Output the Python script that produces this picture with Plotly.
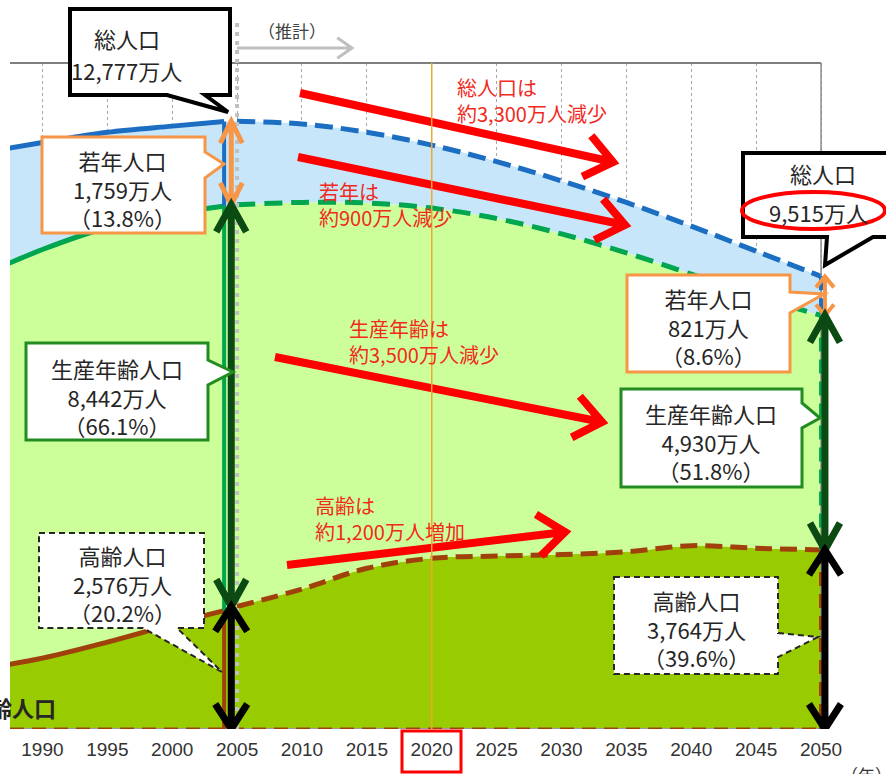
import math
import plotly.graph_objects as go

# ---------------- data (万人) ----------------
hist_years = [1985, 1990, 1995, 2000, 2004]
hist_young = [2603, 2249, 2001, 1847, 1773]
hist_working = [8251, 8590, 8716, 8622, 8508]
hist_elderly = [1247, 1489, 1826, 2204, 2488]

proj_years = [2005, 2010, 2015, 2020, 2025, 2030, 2035, 2040, 2045, 2050]
proj_young = [1759, 1648, 1484, 1324, 1195, 1115, 1058, 1008, 944, 821]
proj_working = [8442, 8129, 7681, 7360, 7097, 6740, 6285, 5709, 5300, 4930]
proj_elderly = [2576, 2941, 3378, 3590, 3635, 3667, 3725, 3853, 3800, 3764]

tick_years = [1990, 1995, 2000, 2005, 2010, 2015, 2020, 2025, 2030, 2035, 2040, 2045, 2050]
tick_labels = [str(y) for y in tick_years]

change_notes = [
    ("総人口は", "約3,300万人減少"),
    ("若年は", "約900万人減少"),
    ("生産年齢は", "約3,500万人減少"),
    ("高齢は", "約1,200万人増加"),
]

# ---------------- stacking ----------------
def stack(eld, work, young):
    s_e = list(eld)
    s_w = [e + w for e, w in zip(eld, work)]
    s_t = [a + y for a, y in zip(s_w, young)]
    return s_e, s_w, s_t

h_e, h_w, h_t = stack(hist_elderly, hist_working, hist_young)
p_e, p_w, p_t = stack(proj_elderly, proj_working, proj_young)
all_years = hist_years + proj_years
all_e, all_w, all_t = h_e + p_e, h_w + p_w, h_t + p_t

# ---------------- geometry ----------------
FW, FH = 886, 774
L, R, T, B = 10, 39, 63, 45
PW, PH = FW - L - R, FH - T - B
XR = [1987.5, 2052]
YR = [0, 14000]
XPPU = PW / (XR[1] - XR[0])
YPPU = PH / (YR[1] - YR[0])

def px(x):
    return (x - L) / PW

def py(y):
    return (FH - B - y) / PH

def P(x, y):
    return f"{px(x):.5f},{py(y):.5f}"

FONT = "Noto Sans CJK JP"
C_BLUE = "#1b6ec2"
C_GREEN = "#00a550"
C_BROWN = "#a0400a"
C_ELD_FILL = "#99cc00"
C_WORK_FILL = "#ccff99"
C_YOUNG_FILL = "#c7e6fa"
C_ORANGE = "#f79646"
C_DKGREEN = "#0b4a12"
C_BOXGREEN = "#228b22"
C_TEXT = "#262626"
C_RED = "#ff0000"
C_REDTXT = "#f22a1e"

fig = go.Figure()

# fills
fig.add_trace(go.Scatter(x=all_years, y=all_e, mode="lines", fill="tozeroy",
                         fillcolor=C_ELD_FILL, line=dict(width=0, shape="spline"),
                         hoverinfo="skip"))
fig.add_trace(go.Scatter(x=all_years, y=all_w, mode="lines", fill="tonexty",
                         fillcolor=C_WORK_FILL, line=dict(width=0, shape="spline"),
                         hoverinfo="skip"))
fig.add_trace(go.Scatter(x=all_years, y=all_t, mode="lines", fill="tonexty",
                         fillcolor=C_YOUNG_FILL, line=dict(width=0, shape="spline"),
                         hoverinfo="skip"))

# lines
for ys_h, ys_p, col, dash in [(h_t, p_t, C_BLUE, "18px,8px"),
                              (h_w, p_w, C_GREEN, "18px,9px"),
                              (h_e, p_e, C_BROWN, "17px,8px")]:
    fig.add_trace(go.Scatter(x=hist_years, y=ys_h, mode="lines",
                             line=dict(color=col, width=5, shape="spline"),
                             hoverinfo="skip"))
    fig.add_trace(go.Scatter(x=proj_years, y=ys_p, mode="lines",
                             line=dict(color=col, width=5, shape="spline", dash=dash),
                             hoverinfo="skip"))

shapes = []

# borders
shapes.append(dict(type="line", xref="x", yref="paper", x0=XR[0], x1=2050, y0=1, y1=1,
                   line=dict(color="#7f7f7f", width=2)))
shapes.append(dict(type="line", xref="x", yref="paper", x0=2050, x1=2050, y0=0, y1=1,
                   line=dict(color="#8c8c8c", width=1.5)))
shapes.append(dict(type="line", xref="x", yref="y", x0=XR[0], x1=2050, y0=0, y1=0,
                   line=dict(color="#9a9a9a", width=2)))
shapes.append(dict(type="line", xref="x", yref="y", x0=XR[0], x1=2050, y0=0, y1=0,
                   line=dict(color=C_BROWN, width=3, dash="14px,8px")))

# area edges
x_h = hist_years[-1]
for y0, y1, col in [(h_t[-1], h_w[-1], C_BLUE), (h_w[-1], h_e[-1], C_GREEN), (h_e[-1], 0, C_BROWN)]:
    shapes.append(dict(type="line", xref="x", yref="y", x0=x_h, x1=x_h, y0=y0, y1=y1,
                       line=dict(color=col, width=4)))
x_e = proj_years[-1]
for y0, y1, col in [(p_t[-1], p_w[-1], C_BLUE), (p_w[-1], p_e[-1], C_GREEN), (p_e[-1], 0, C_BROWN)]:
    shapes.append(dict(type="line", xref="x", yref="y", x0=x_e, x1=x_e, y0=y0, y1=y1,
                       line=dict(color=col, width=4, dash="14px,8px")))

# gray dotted projection boundary (2005)
shapes.append(dict(type="line", xref="x", yref="paper", x0=proj_years[0], x1=proj_years[0],
                   y0=0, y1=py(22), line=dict(color="#c0c0c0", width=4, dash="4px,5px")))

def arrow_path(x0, y0, x1, y1, alen, ang):
    dx, dy = x1 - x0, y1 - y0
    d = math.hypot(dx, dy)
    ux, uy = -dx / d, -dy / d
    pts = []
    for s in (1, -1):
        a = math.radians(ang * s)
        rx = ux * math.cos(a) - uy * math.sin(a)
        ry = ux * math.sin(a) + uy * math.cos(a)
        pts.append((x1 + rx * alen, y1 + ry * alen))
    return (f"M {P(x0, y0)} L {P(x1, y1)} M {P(*pts[0])} L {P(x1, y1)} L {P(*pts[1])}")

# gray "(推計)" arrow
shapes.append(dict(type="path", xref="paper", yref="paper",
                   path=arrow_path(237, 48, 352, 48, 18, 35),
                   line=dict(color="#bfbfbf", width=3)))

# red trend arrows
for (x0, y0, x1, y1) in [(300, 93, 613, 162), (298, 157, 625, 225),
                         (275, 357, 602, 422), (287, 565, 565, 532)]:
    shapes.append(dict(type="path", xref="paper", yref="paper",
                       path=arrow_path(x0, y0, x1, y1, 34, 38),
                       line=dict(color=C_RED, width=8)))

# vertical double arrows (data coords)
def varrow(x, ytop, ybot, color, width, axp, ayp):
    ax = axp / XPPU
    ay = ayp / YPPU
    path = (f"M {x},{ytop} L {x},{ybot} "
            f"M {x - ax},{ytop - ay} L {x},{ytop} L {x + ax},{ytop - ay} "
            f"M {x - ax},{ybot + ay} L {x},{ybot} L {x + ax},{ybot + ay}")
    return dict(type="path", xref="x", yref="y", path=path, line=dict(color=color, width=width))

xa0 = proj_years[0] - 0.45
shapes.append(varrow(xa0, p_t[0], p_w[0], C_ORANGE, 5, 11, 22))
shapes.append(varrow(xa0, p_w[0], p_e[0], C_DKGREEN, 7, 15, 27))
shapes.append(varrow(xa0, p_e[0], 0, "#000000", 7, 16, 25))
xa1 = proj_years[-1] + 0.3
shapes.append(varrow(xa1, p_t[-1], p_w[-1], C_ORANGE, 4, 9, 11))
shapes.append(varrow(xa1, p_w[-1], p_e[-1], C_DKGREEN, 7, 15, 27))
shapes.append(varrow(xa1, p_e[-1], 0, "#000000", 7, 16, 25))

# callouts
def callout(pts, color, width, dash="solid"):
    path = "M " + " L ".join(P(x, y) for x, y in pts) + " Z"
    return dict(type="path", xref="paper", yref="paper", path=path, fillcolor="white",
                line=dict(color=color, width=width, dash=dash))

shapes.append(callout([(70, 9), (230, 9), (230, 95), (205, 95), (228, 112), (167, 95), (70, 95)], "#000000", 4))
shapes.append(callout([(42, 137), (205, 137), (205, 152), (224, 164), (205, 178), (205, 233), (42, 233)], C_ORANGE, 3))
shapes.append(callout([(26, 343), (208, 343), (208, 360), (233, 372), (208, 385), (208, 440), (26, 440)], C_BOXGREEN, 3))
shapes.append(callout([(39, 533), (204, 533), (204, 628), (177, 628), (222, 672), (143, 628), (39, 628)], "#262626", 2, "6px,4px"))
shapes.append(callout([(743, 153), (905, 153), (905, 237), (873, 237), (825, 265), (827, 237), (743, 237)], "#000000", 4))
shapes.append(callout([(627, 275), (790, 275), (790, 292), (824, 294), (790, 313), (790, 372), (627, 372)], C_ORANGE, 3))
shapes.append(callout([(621, 389), (802, 389), (802, 403), (820, 418), (802, 428), (802, 487), (621, 487)], C_BOXGREEN, 3))
shapes.append(callout([(614, 577), (778, 577), (778, 633), (818, 637), (778, 657), (778, 674), (614, 674)], "#262626", 2, "6px,4px"))

# red ellipse
shapes.append(dict(type="circle", xref="paper", yref="paper", x0=px(742), x1=px(885),
                   y0=py(229), y1=py(192), line=dict(color=C_RED, width=4)))

# 2020 line
shapes.append(dict(type="line", xref="x", yref="paper", x0=2020, x1=2020, y0=0, y1=1,
                   line=dict(color="#f0a830", width=1.5)))
# red box around 2020 label
shapes.append(dict(type="rect", xref="paper", yref="paper", x0=px(402), x1=px(461),
                   y0=py(772), y1=py(731), line=dict(color=C_RED, width=3)))

# ---------------- annotations ----------------
ann = []

def txt(x, y, s, size=22, color=C_TEXT, anchor="center", family=FONT):
    ann.append(dict(xref="paper", yref="paper", x=px(x), y=py(y), text=s, showarrow=False,
                    xanchor=anchor, yanchor="middle", align=anchor,
                    font=dict(family=family, size=size, color=color)))

t0 = p_t[0]
t1 = p_t[-1]
def pct(v, t):
    return f"（{100 * v / t:.1f}%）"

def block(x, yc, lines, size=22):
    txt(x, yc, "<br>".join(lines), size=size)

txt(127, 38, "総人口")
txt(127, 70, f"{t0:,}万人")
block(123, 189, ["若年人口", f"{proj_young[0]:,}万人", pct(proj_young[0], t0)])
block(117, 396, ["生産年齢人口", f"{proj_working[0]:,}万人", pct(proj_working[0], t0)])
block(122, 583, ["高齢人口", f"{proj_elderly[0]:,}万人", pct(proj_elderly[0], t0)])

txt(823, 173, "総人口")
txt(818, 212, f"{t1:,}万人")
block(708, 326, ["若年人口", f"{proj_young[-1]:,}万人", pct(proj_young[-1], t1)])
block(711, 441, ["生産年齢人口", f"{proj_working[-1]:,}万人", pct(proj_working[-1], t1)])
block(696, 628, ["高齢人口", f"{proj_elderly[-1]:,}万人", pct(proj_elderly[-1], t1)])

for (a, b), (x, y) in zip(change_notes, [(455, 87), (317, 192), (347, 328), (313, 505)]):
    txt(x, y + 13, f"{a}<br>{b}", size=20, color=C_REDTXT, anchor="left")

txt(292, 31, "（推計）", size=17, color="#404040")
txt(58, 707, "<b>高齢人口</b>", size=22, color=C_TEXT, anchor="right")
txt(866, 774, "（年）", size=17, color="#333333")

fig.update_layout(
    width=FW, height=FH,
    margin=dict(l=L, r=R, t=T, b=B, pad=0),
    paper_bgcolor="white", plot_bgcolor="white",
    showlegend=False,
    shapes=shapes,
    annotations=ann,
    xaxis=dict(range=XR, tickvals=tick_years, ticktext=tick_labels, showgrid=True,
               gridcolor="#a6a6a6", griddash="dot", gridwidth=1, zeroline=False,
               showline=False, ticks="", ticklabelstandoff=7,
               tickfont=dict(family="Liberation Sans", size=19, color="#333333"),
               fixedrange=True),
    yaxis=dict(range=YR, visible=False, showgrid=False, zeroline=False, fixedrange=True),
)

fig.write_html("out.html")
